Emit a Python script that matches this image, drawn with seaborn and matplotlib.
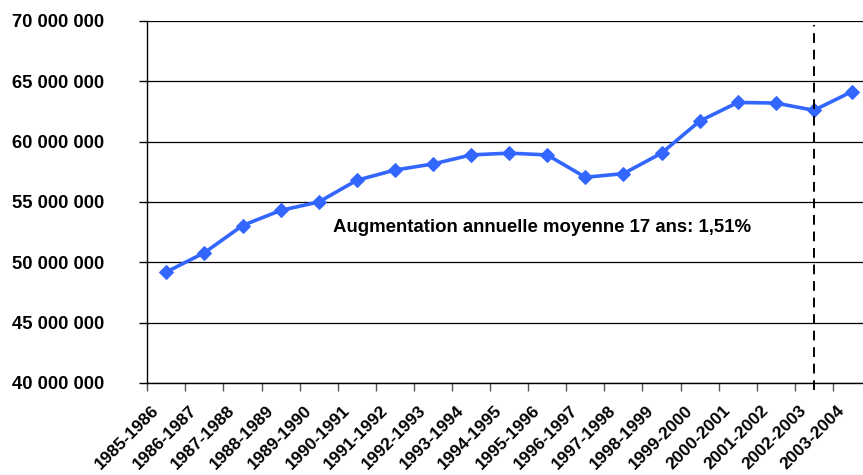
import matplotlib
matplotlib.use('Agg')
import matplotlib.pyplot as plt
import matplotlib.ticker as mticker
import matplotlib.transforms as mtransforms
import pandas as pd
import seaborn as sns

annees = ['1985-1986', '1986-1987', '1987-1988', '1988-1989', '1989-1990',
          '1990-1991', '1991-1992', '1992-1993', '1993-1994', '1994-1995',
          '1995-1996', '1996-1997', '1997-1998', '1998-1999', '1999-2000',
          '2000-2001', '2001-2002', '2002-2003', '2003-2004']
valeurs = [49_200_000, 50_800_000, 53_050_000, 54_300_000, 55_000_000,
           56_800_000, 57_650_000, 58_150_000, 58_900_000, 59_050_000,
           58_900_000, 57_050_000, 57_350_000, 59_050_000, 61_700_000,
           63_250_000, 63_200_000, 62_600_000, 64_150_000]
annotation = 'Augmentation annuelle moyenne 17 ans: 1,51%'
index_coupure = 17  # ligne pointillée sur 2002-2003

df = pd.DataFrame({'annee': annees, 'valeur': valeurs})

sns.set_style('white')
plt.rcParams['font.family'] = ['Liberation Sans', 'DejaVu Sans']
plt.rcParams['text.color'] = 'black'
plt.rcParams['xtick.color'] = 'black'
plt.rcParams['ytick.color'] = 'black'

fig = plt.figure(figsize=(8.63, 4.75), dpi=100)
ax = fig.add_axes([0.1707, 0.1937, 0.8386, 0.7621])

sns.lineplot(data=df, x='annee', y='valeur', ax=ax, sort=False,
             color='#3366FF', linewidth=2.6, marker='D', markersize=7,
             markeredgecolor='#3366FF', zorder=3)

ax.set_xlim(-0.5, len(annees) - 0.5)
ax.set_ylim(40_000_000, 70_000_000)
ax.yaxis.set_major_locator(mticker.MultipleLocator(5_000_000))
ax.yaxis.set_major_formatter(
    mticker.FuncFormatter(lambda v, p: f'{int(v):,}'.replace(',', ' ')))
ax.grid(axis='y', color='black', linewidth=0.9)
ax.grid(axis='x', visible=False)

# graduations entre les catégories
ax.set_xticks(range(len(annees)))
ax.set_xticklabels(annees, rotation=45, ha='right', rotation_mode='anchor',
                   fontsize=12.5, fontweight='bold')
ax.set_xticks([k - 0.5 for k in range(len(annees) + 1)], minor=True)
ax.tick_params(axis='x', which='major', length=0, pad=10)
ax.tick_params(axis='x', which='minor', length=6, width=1, color='#555555',
               direction='out', bottom=True)
ax.tick_params(axis='y', length=6, width=1, color='black', direction='out',
               left=True, labelsize=13.2, pad=25)
for lab in ax.get_yticklabels():
    lab.set_fontweight('bold')

decalage = mtransforms.ScaledTranslation(-0.15, -0.06, fig.dpi_scale_trans)
for lab in ax.get_xticklabels():
    lab.set_transform(lab.get_transform() + decalage)

for s in ['top', 'right']:
    ax.spines[s].set_visible(False)
for s in ['left', 'bottom']:
    ax.spines[s].set_color('black')
    ax.spines[s].set_linewidth(1)

ax.axvline(index_coupure, ymin=-0.02, ymax=0.99, color='black',
           linestyle=(0, (5, 3.5)), linewidth=1.4, clip_on=False, zorder=4)

ax.text(9.86, 52_850_000, annotation, ha='center', va='center',
        fontsize=13.4, fontweight='bold')

ax.set_xlabel('')
ax.set_ylabel('')

fig.savefig('out.png', dpi=100)
